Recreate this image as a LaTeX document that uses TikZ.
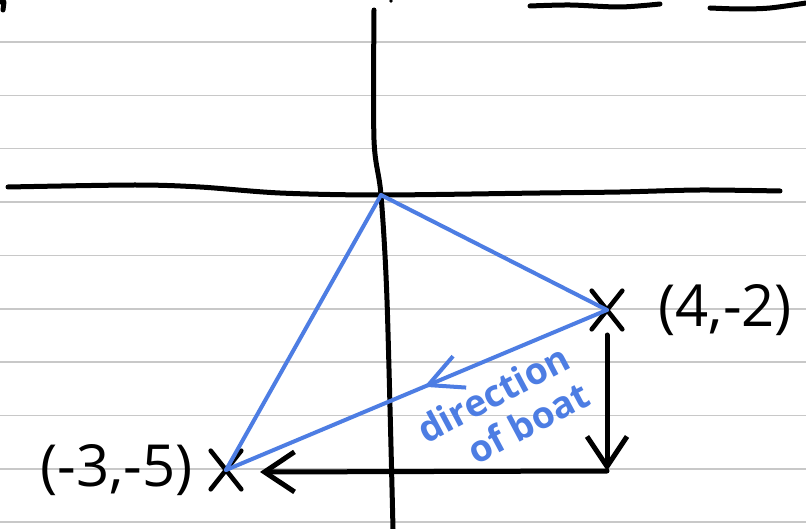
\documentclass[tikz,border=0pt]{standalone}
\usepackage{fontspec}
\setmainfont{Open Sans}
\usepackage{xcolor}
\usepackage{tikz}
\usetikzlibrary{positioning, shapes.misc, arrows.meta, calc, decorations.markings}
\definecolor{penblue}{HTML}{4D7DE3}
\definecolor{ruleline}{HTML}{C8C8C8}
\tikzset{notepage/.style={
    x=1pt, y=-1pt,
    ruled/.style={draw=ruleline, line width=1.6pt},
    pen/.style={draw=black, line width=5pt, line cap=round, line join=round},
    bluepen/.style={draw=penblue, line width=4pt, line cap=round, line join=round},
    cross/.style={cross out, draw=black, line width=4.6pt, line cap=round, minimum width=26pt, minimum height=34pt, inner sep=0pt},
    coordlabel/.style={font=\fontsize{58}{64}\selectfont, inner sep=0pt},
    note/.style={font=\fontsize{37}{42}\selectfont\bfseries, text=penblue, align=right, inner sep=0pt},
    handarrow/.style={-{Straight Barb[length=30pt, width=40pt]}},
    midarrow/.style={postaction={decorate}, decoration={markings,
        mark=at position 0.48 with {\arrow[penblue]{Straight Barb[length=34pt, width=34pt]}}}},
}}

\begin{document}
\begin{tikzpicture}[notepage]
    \useasboundingbox[fill=white] (0,0) rectangle (806,529);
    \clip (0,0) rectangle (806,529);
    \foreach \k in {0,...,9}
        \draw[ruled] (0,{42+53.35*\k}) -- (806,{42+53.35*\k});
    % bits of writing cut off above
    \draw[pen] (0,2) -- (4,2) -- (3,10);
    \fill (391,1) circle (1.8pt);
    \draw[pen] plot[smooth] coordinates {(530,6) (570,5) (620,7) (660,4)};
    \draw[pen] plot[smooth] coordinates {(710,8) (740,9) (770,8) (806,3)};
    % axes
    \draw[pen] plot[smooth] coordinates {(8,187) (135,185) (200,187) (280,193) (380,195) (540,193) (620,192) (700,190) (780,191)};
    \draw[pen] plot[smooth] coordinates {(374,10) (374,140) (381,195) (387,300) (393,529)};
    \coordinate (O) at (381,195);
    \node[cross] (A) at (607,310) {};
    \node[cross] (B) at (226,470) {};
    \node[coordlabel, right=36pt of A] (Alabel) {(4,-2)};
    \node[coordlabel, left=18pt of B] (Blabel) {(-3,-5)};
    \draw[bluepen] (O) -- (A.center);
    \draw[bluepen] (O) -- (B.center);
    \draw[bluepen, midarrow] (A.center) -- (B.center);
    \node[note, rotate=28] (dir) at (503,412) {direction\\of boat};
    \coordinate (drop) at (607,335);
    \coordinate (corner) at (607,471);
    \coordinate (back) at (260,472);
    \draw[pen, handarrow] (drop) -- (corner);
    \draw[pen, handarrow] (corner) -- (back);
\end{tikzpicture}
\end{document}
